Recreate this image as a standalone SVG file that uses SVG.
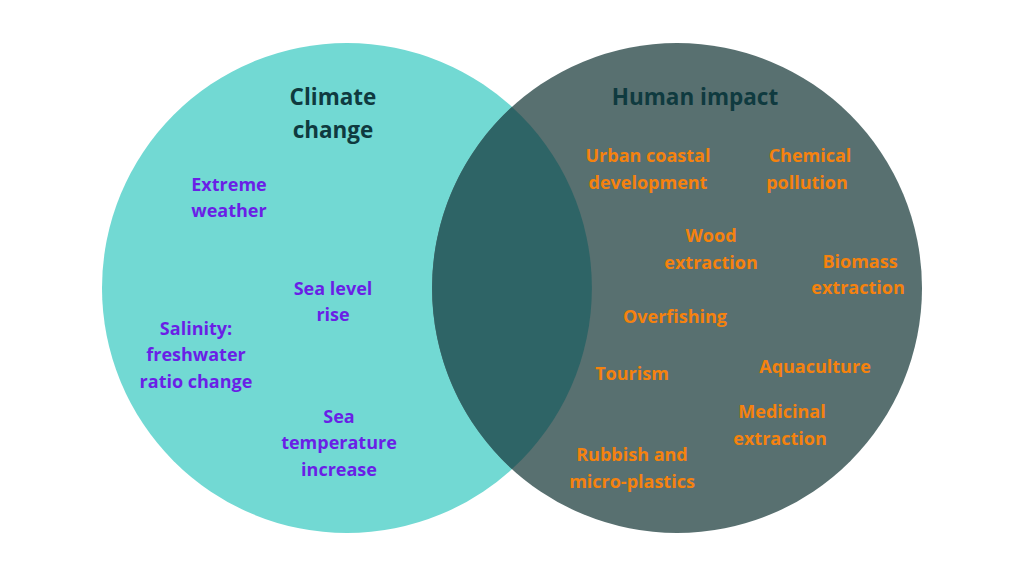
<svg xmlns="http://www.w3.org/2000/svg" width="1024" height="576" viewBox="0 0 1024 576">
<style>
.t{font-family:"Open Sans","Liberation Sans",sans-serif;font-weight:700;font-size:22.5px;fill:#0f3a3f;text-anchor:middle}
.p{font-family:"Open Sans","Liberation Sans",sans-serif;font-weight:700;font-size:18px;fill:#6a1fe6;text-anchor:middle}
.o{font-family:"Open Sans","Liberation Sans",sans-serif;font-weight:700;font-size:18px;fill:#f5820e;text-anchor:middle}
</style>
<rect width="1024" height="576" fill="#ffffff"/>
<g id="climate-change">
<circle cx="347" cy="288" r="245" fill="#72d9d3"/>
</g>
<g id="human-impact">
<circle cx="677" cy="288" r="245" fill="#587070"/>
</g>
<g id="overlap">
<path d="M512,107 A245,245 0 0 1 512,469 A245,245 0 0 1 512,107 Z" fill="#2e6466"/>
</g>
<g id="connectors"></g>
<g id="titles">
<text class="t" x="333" y="105">Climate</text>
<text class="t" x="333" y="138">change</text>
<text class="t" x="695" y="105">Human impact</text>
</g>
<g id="climate-items">
<text class="p" x="229" y="191">Extreme</text>
<text class="p" x="229" y="217">weather</text>
<text class="p" x="333" y="295">Sea level</text>
<text class="p" x="333" y="321">rise</text>
<text class="p" x="196" y="335">Salinity:</text>
<text class="p" x="196" y="361">freshwater</text>
<text class="p" x="196" y="388">ratio change</text>
<text class="p" x="339" y="423">Sea</text>
<text class="p" x="339" y="449">temperature</text>
<text class="p" x="339" y="476">increase</text>
</g>
<g id="human-items">
<text class="o" x="648" y="162">Urban coastal</text>
<text class="o" x="648" y="189">development</text>
<text class="o" x="810" y="162">Chemical</text>
<text class="o" x="807" y="189">pollution</text>
<text class="o" x="711" y="242">Wood</text>
<text class="o" x="711" y="269">extraction</text>
<text class="o" x="860" y="268">Biomass</text>
<text class="o" x="858" y="294">extraction</text>
<text class="o" x="675" y="323">Overfishing</text>
<text class="o" x="632" y="380">Tourism</text>
<text class="o" x="815" y="373">Aquaculture</text>
<text class="o" x="782" y="418">Medicinal</text>
<text class="o" x="780" y="445">extraction</text>
<text class="o" x="632" y="461">Rubbish and</text>
<text class="o" x="632" y="488">micro-plastics</text>
</g>
</svg>
